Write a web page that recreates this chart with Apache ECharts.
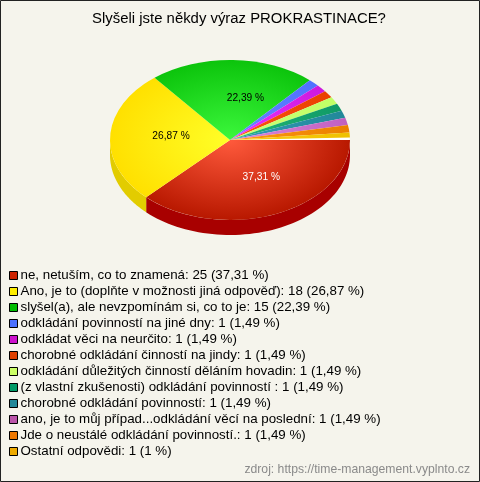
<!DOCTYPE html>
<html><head><meta charset="utf-8">
<style>html,body{margin:0;padding:0;background:#f5f4ec}#c{width:480px;height:482px}</style>
<script src="https://cdn.jsdelivr.net/npm/echarts@6/dist/echarts.min.js"></script>
</head><body><div id="c"></div>
<script>
const titleText = 'Slyšeli jste někdy výraz PROKRASTINACE?';
const sourceText = 'zdroj: https://time-management.vyplnto.cz';
const categories = ['ne, netuším, co to znamená','Ano, je to (doplňte v možnosti jiná odpověď)','slyšel(a), ale nevzpomínám si, co to je','odkládání povinností na jiné dny','odkládat věci na neurčito','chorobné odkládání činností na jindy','odkládání důležitých činností děláním hovadin','(z vlastní zkušenosti) odkládání povinností ','chorobné odkládání povinností','ano, je to můj případ...odkládání věcí na poslední','Jde o neustálé odkládání povinností.','Ostatní odpovědi'];
const counts = [25,18,15,1,1,1,1,1,1,1,1,1];
const percents = [37.31,26.87,22.39,1.49,1.49,1.49,1.49,1.49,1.49,1.49,1.49,1];
const percentLabels = ['37,31','26,87','22,39','1,49','1,49','1,49','1,49','1,49','1,49','1,49','1,49','1'];
const swatch = ['#cc2200','#ffee00','#00bb00','#4a70ff','#cc11cc','#e04000','#ccff66','#009966','#228899','#bb55aa','#ee7700','#eeaa00'];
const inner = ['#ff5a3c','#ffff28','#3cf83c','#6688ff','#ee33ff','#ff5510','#ccff77','#22bb77','#3399bb','#dd88dd','#ff9911','#ffcc11'];
const outer = ['#b81800','#ffe000','#0cc40c','#4f70ff','#cc18dd','#ea4000','#c0ff66','#109966','#228899','#c060c0','#ea8000','#eec000'];
const wall = ['#a80000','#e2cc00'];

const CX=230, CY=140, RX=120, RY=80, DEPTH=15;
const toRad = p => p/100*Math.PI*2;
const cumulative = percents.map((_,i)=>percents.slice(0,i).reduce((a,b)=>a+b,0));
const labelShift = {0:[8,0],1:[1,-2],2:[14,-2]};

function renderSlice(i){
  return function(params, api){
    const start = toRad(api.value(1)), end = start + toRad(api.value(0));
    const children = [];
    if(i===0) children.push({type:'ellipse',shape:{cx:CX,cy:CY,rx:RX-0.5,ry:RY-0.5},style:{fill:'#ffffff'}});
    if(start < Math.PI){
      const e = Math.min(end, Math.PI), pts=[];
      const n = 60;
      for(let k=0;k<=n;k++){const a=start+(e-start)*k/n;pts.push([CX+RX*Math.cos(a),CY+RY*Math.sin(a)]);}
      for(let k=n;k>=0;k--){const a=start+(e-start)*k/n;pts.push([CX+RX*Math.cos(a),CY+DEPTH+RY*Math.sin(a)]);}
      children.push({type:'polygon',shape:{points:pts},style:{fill:wall[i]||outer[i]}});
    }
    children.push({type:'sector',originX:CX,originY:CY,scaleY:RY/RX,
      shape:{cx:CX,cy:CY,r0:0,r:RX,startAngle:start,endAngle:end,clockwise:true},
      style:{fill:new echarts.graphic.RadialGradient(CX,CY,RX,[{offset:0,color:inner[i]},{offset:1,color:outer[i]}],true)}});
    if(labelShift[i]){
      const m=(start+end)/2, s=labelShift[i];
      children.push({type:'text',x:CX+RX*0.5*Math.cos(m)+s[0],y:CY+RY*0.5*Math.sin(m)+s[1],
        style:{text:percentLabels[i]+' %',fill:i===0?'#ffffff':'#000000',font:'10.2px "Liberation Sans"',align:'center',verticalAlign:'middle'}});
    }
    return {type:'group',children};
  };
}

const names = categories.map((c,i)=>`${c}: ${counts[i]} (${percentLabels[i]} %)`);
const chart = echarts.init(document.getElementById('c'),null,{renderer:'canvas'});
chart.setOption({
  animation:false,
  backgroundColor:'#f5f4ec',
  title:{text:titleText,left:234,top:6,textAlign:'center',textStyle:{fontFamily:'Liberation Sans',fontSize:14.9,fontWeight:'normal',color:'#000'}},
  legend:{orient:'vertical',left:9,top:269,selectedMode:false,icon:'rect',itemWidth:8,itemHeight:8,itemGap:3,padding:0,
    textStyle:{fontFamily:'Liberation Sans',fontSize:13.33,color:'#000',padding:[0,0,0,-2],lineHeight:13,height:13},
    itemStyle:{borderColor:'#000',borderWidth:1,borderJoin:'miter'},
    data:names},
  graphic:[
    {type:'rect',shape:{x:0.5,y:0.5,width:479,height:481},style:{fill:'none',stroke:'#222',lineWidth:1},silent:true},
    {type:'text',x:470,y:470,style:{text:sourceText,fill:'#8a8a8a',font:'12.2px "Liberation Sans"',align:'right',verticalAlign:'middle'}}
  ],
  series:names.map((n,i)=>({type:'custom',name:n,coordinateSystem:'none',silent:true,itemStyle:{color:swatch[i]},
    renderItem:renderSlice(i),data:[[percents[i],cumulative[i]]]}))
});
</script></body></html>
